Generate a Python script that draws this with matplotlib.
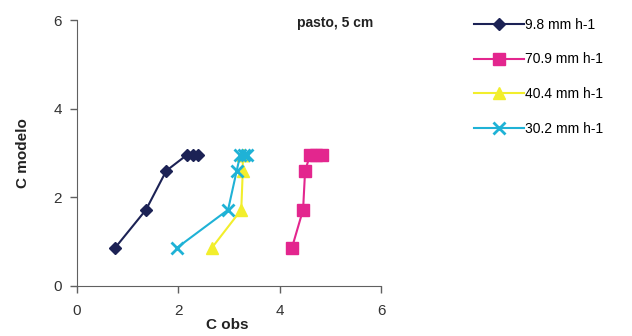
import matplotlib.pyplot as plt

plt.rcParams['font.family'] = ['Liberation Sans', 'DejaVu Sans']

c_modelo = [0.86, 1.72, 2.6, 2.96, 2.96, 2.96]

obs_98 = [0.75, 1.36, 1.76, 2.17, 2.28, 2.38]
obs_709 = [4.24, 4.46, 4.5, 4.6, 4.72, 4.84]
obs_404 = [2.66, 3.24, 3.27, 3.27, 3.27, 3.27]
obs_302 = [1.97, 2.98, 3.15, 3.22, 3.3, 3.36]

labels = ['9.8 mm h-1', '70.9 mm h-1', '40.4 mm h-1', '30.2 mm h-1']

fig = plt.figure(figsize=(6.32, 3.36), dpi=100)
ax = fig.add_axes([0.122, 0.149, 0.481, 0.791])

ax.plot(obs_98, c_modelo, color='#1c2255', marker='D', markersize=6, lw=1.5, label=labels[0])
ax.plot(obs_709, c_modelo, color='#e3268e', marker='s', markersize=8, lw=1.5, label=labels[1])
ax.plot(obs_404, c_modelo, color='#f2ee2c', marker='^', markersize=8, lw=1.5, label=labels[2])
ax.plot(obs_302, c_modelo, color='#1fb2d6', marker='x', markersize=9, mew=2, lw=1.5, label=labels[3])

ax.set_xlim(0, 6)
ax.set_ylim(0, 6)
ax.set_xticks([0, 2, 4, 6])
ax.set_yticks([0, 2, 4, 6])
for s in ['top', 'right']:
    ax.spines[s].set_visible(False)
for s in ['left', 'bottom']:
    ax.spines[s].set_color('#606060')
ax.tick_params(colors='#606060', labelcolor='#333333', labelsize=11, length=5, width=1)
ax.tick_params(axis='x', pad=8)
ax.tick_params(axis='y', pad=6)

ax.set_ylabel('C modelo', fontsize=11, fontweight='bold', color='#222222', labelpad=17)
fig.text(0.36, 0.02, 'C obs', fontsize=11, fontweight='bold', color='#222222', ha='center')
fig.text(0.53, 0.92, 'pasto, 5 cm', fontsize=10, fontweight='bold', color='#222222', ha='center')

fig.legend(loc='upper left', bbox_to_anchor=(0.73, 0.985), frameon=False,
           fontsize=10, handlelength=3.6, handletextpad=0.1, labelspacing=1.5)

fig.savefig('out.png', dpi=100)
